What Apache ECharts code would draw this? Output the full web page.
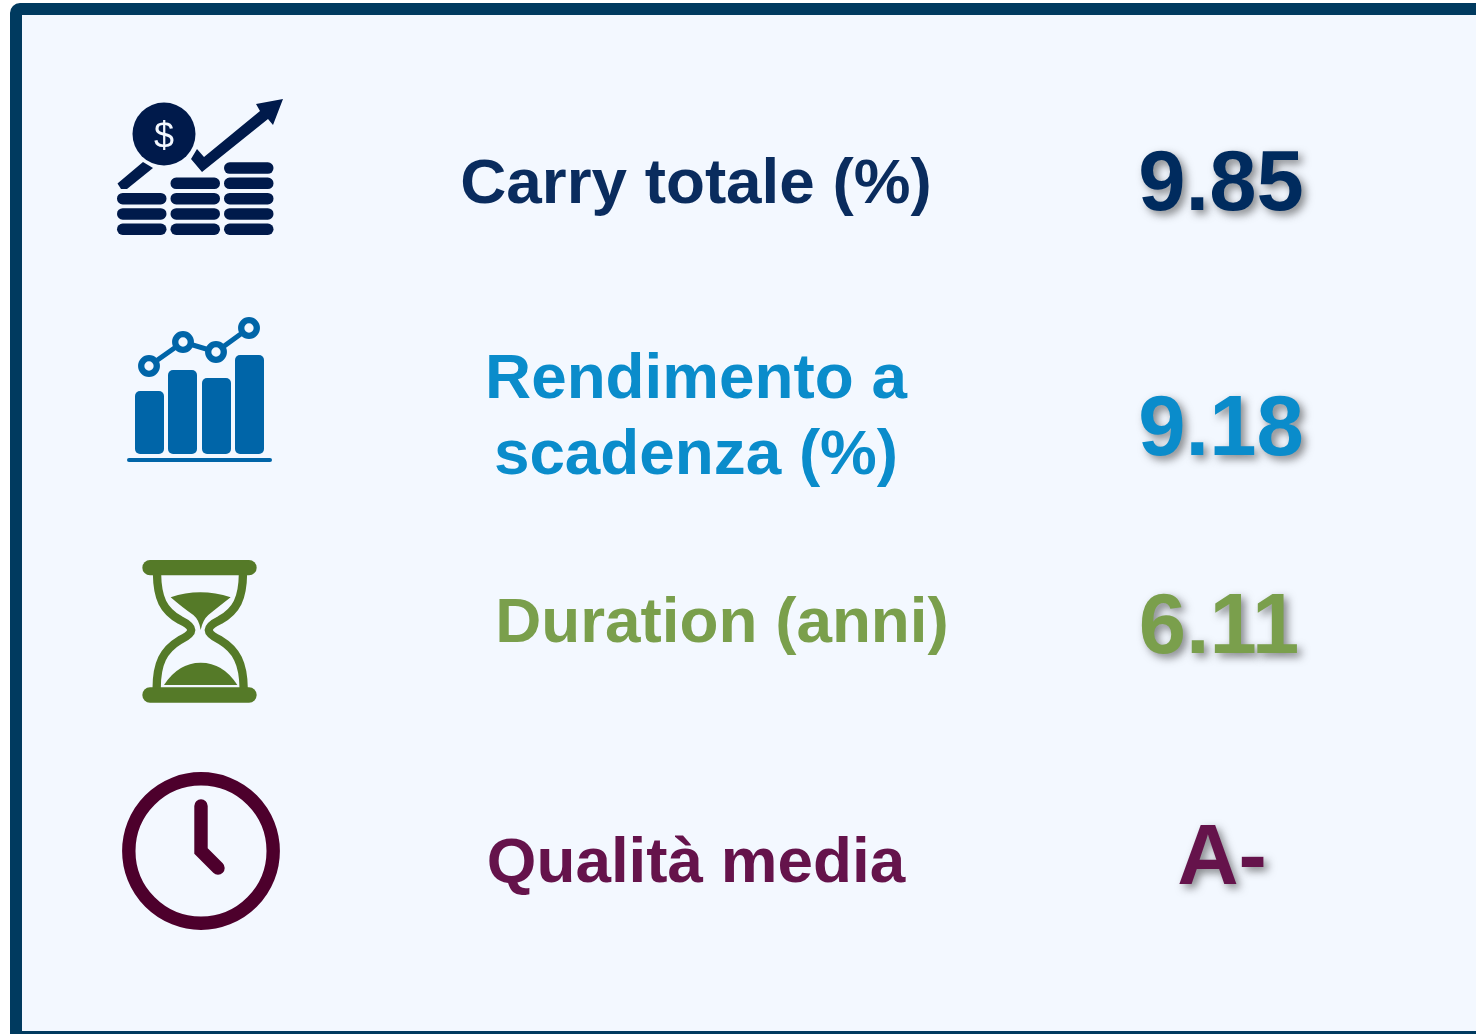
<!DOCTYPE html>
<html><head><meta charset="utf-8">
<style>html,body{margin:0;padding:0;background:#fff}#c{width:1476px;height:1034px}</style>
<script src="https://cdn.jsdelivr.net/npm/echarts@6/dist/echarts.min.js"></script>
</head><body><div id="c"></div>
<script>
const labels = [["Carry totale (%)"], ["Rendimento a", "scadenza (%)"], ["Duration (anni)"], ["Qualità media"]];
const values = ["9.85", "9.18", "6.11", "A-"];

const font = '"Liberation Sans", Arial, sans-serif';
const labelColors = ['#0a2c5e', '#0a8ccb', '#7a9f4c', '#65134b'];
const valueColors = ['#002b5e', '#0a8ccb', '#7a9f4c', '#65134b'];
const labelCx = [696, 696, 722, 696];
const labelCy = [[185], [380, 456], [624], [864]];
const valueCx = [1221, 1221, 1219, 1222];
const valueCy = [187, 432, 630, 861];

const els = [];
// panel
els.push({type:'rect', shape:{x:16,y:9,width:1480,height:1040,r:4}, style:{fill:'#f3f8ff',stroke:'#003a5f',lineWidth:12}});
els.push({type:'rect', shape:{x:22,y:1031,width:1454,height:3}, style:{fill:'#003a5f'}});

// label and value text
labels.forEach((lines,i)=>lines.forEach((t,j)=>els.push({type:'text',
  style:{x:labelCx[i],y:labelCy[i][j],text:t,align:'center',verticalAlign:'middle',
    font:`bold 63.8px ${font}`,fill:labelColors[i]}})));
values.forEach((t,i)=>els.push({type:'text',
  style:{x:valueCx[i],y:valueCy[i],text:t,align:'center',verticalAlign:'middle',
    font:`bold 85px ${font}`,fill:valueColors[i],
    textShadowColor:'rgba(40,40,40,0.55)',textShadowBlur:8,textShadowOffsetX:4,textShadowOffsetY:4}}));

// coins icon
const navy = '#001a4b';
[[117,3],[170.5,4],[224,5]].forEach(([x,n])=>{
  for(let k=0;k<n;k++) els.push({type:'rect',shape:{x,y:223.5-15.3*k,width:49.5,height:11.5,r:5.7},style:{fill:navy}});
});
els.push({type:'circle',shape:{cx:164,cy:134,r:31.5},style:{fill:navy}});
els.push({type:'text',style:{x:164,y:138,text:'$',align:'center',verticalAlign:'middle',font:`36px ${font}`,fill:'#f3f8ff'}});
els.push({type:'polygon',shape:{points:[[117.5,183.5],[143,162],[153,168],[127,189],[121,189]]},style:{fill:navy}});
els.push({type:'polygon',shape:{points:[[191,159],[197,149],[204,157],[260,111],[256,104],[283,99],[273,125],[268,119],[202,172]]},style:{fill:navy}});

// bars icon
const blue = '#0065a8';
[[135,391],[168,370],[202,378],[235,355]].forEach(([x,y])=>
  els.push({type:'rect',shape:{x,y,width:29,height:454-y,r:5},style:{fill:blue}}));
els.push({type:'rect',shape:{x:127,y:458,width:145,height:4,r:2},style:{fill:blue}});
const dots=[[149,366],[183,342],[216,352],[249,328]];
els.push({type:'polyline',shape:{points:dots},style:{fill:null,stroke:blue,lineWidth:5}});
dots.forEach(([cx,cy])=>els.push({type:'circle',shape:{cx,cy,r:7.8},style:{fill:'#f3f8ff',stroke:blue,lineWidth:6.3}}));

// hourglass icon
const green = '#557a28';
const tf = {x:100,y:540,scaleX:1/3,scaleY:1/3};
echarts.graphic.registerShape('hgGlass', echarts.graphic.extendPath(
 'M171,100 C172,175 190,212 240,240 C285,262 285,278 240,300 C190,330 170,370 170,445 '+
 'M429,100 C428,175 410,212 360,240 C315,262 315,278 360,300 C410,330 430,370 431,445'));
echarts.graphic.registerShape('hgTop', echarts.graphic.extendPath(
 'M212,172 Q300,142 392,172 Q350,205 325,225 Q308,240 302,270 Q298,240 280,225 Q250,205 212,172 Z'));
echarts.graphic.registerShape('hgBottom', echarts.graphic.extendPath(
 'M192,435 Q235,368 302,368 Q370,368 412,435 Z'));
[[60],[442]].forEach(([y])=>els.push({type:'rect',...tf,shape:{x:127,y,width:343,height:46,r:23},style:{fill:green}}));
els.push({type:'hgGlass',...tf,style:{fill:null,stroke:green,lineWidth:25}});
els.push({type:'hgTop',...tf,style:{fill:green}});
els.push({type:'hgBottom',...tf,style:{fill:green}});

// clock icon
const plum = '#4d002c';
els.push({type:'circle',shape:{cx:201,cy:851,r:72.2},style:{fill:null,stroke:plum,lineWidth:13.4}});
els.push({type:'polyline',shape:{points:[[201,806],[201,851],[218,868]]},style:{fill:null,stroke:plum,lineWidth:13.4,lineCap:'round',lineJoin:'miter'}});

const chart = echarts.init(document.getElementById('c'),null,{renderer:'canvas'});
chart.setOption({animation:false,backgroundColor:'#ffffff',graphic:{elements:els}});
</script></body></html>
